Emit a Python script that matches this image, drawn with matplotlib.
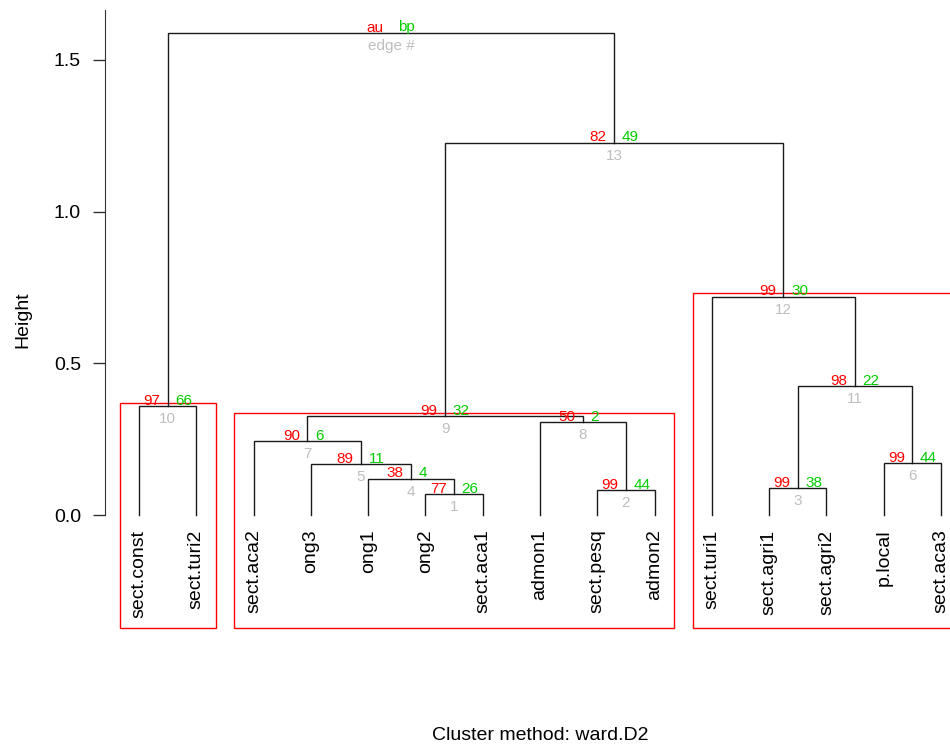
import matplotlib
matplotlib.use("Agg")
import matplotlib.pyplot as plt
from matplotlib.patches import Rectangle

plt.rcParams['font.family'] = ['Liberation Sans', 'DejaVu Sans']

# ---- data -------------------------------------------------------------
labels = ["sect.const", "sect.turi2", "sect.aca2", "ong3", "ong1", "ong2",
          "sect.aca1", "admon1", "sect.pesq", "admon2", "sect.turi1",
          "sect.agri1", "sect.agri2", "p.local", "sect.aca3"]
# hclust-style merges: negative = leaf (1-based, display order), positive = edge #
merge = [(-6, -7), (-9, -10), (-12, -13), (-5, 1), (-4, 4), (-14, -15),
         (-3, 5), (-8, 2), (7, 8), (-1, -2), (3, 6), (-11, 11), (9, 12), (10, 13)]
heights = [0.069, 0.081, 0.088, 0.120, 0.168, 0.172, 0.244, 0.307, 0.326,
           0.359, 0.426, 0.720, 1.228, 1.590]
au_vals = [77, 99, 99, 38, 89, 99, 90, 50, 99, 97, 98, 99, 82]
bp_vals = [26, 44, 38, 4, 11, 44, 6, 2, 32, 66, 22, 30, 49]
yticks = [0.0, 0.5, 1.0, 1.5]
ytick_labels = ["0.0", "0.5", "1.0", "1.5"]
alpha_pct = 95

RED = "#FF0000"
GREEN = "#00CD00"
GRAY = "#BEBEBE"

# ---- figure layout ----------------------------------------------------
W, H = 950, 749
fig = plt.figure(figsize=(W / 100, H / 100), dpi=100)
ax_l, ax_r, ax_t, ax_b = 105, 950, 10, 631
ax = fig.add_axes([ax_l / W, 1 - ax_b / H, (ax_r - ax_l) / W, (ax_b - ax_t) / H])

n = len(labels)
px_per_x = (941 - 139) / (n - 1)
px_per_y = (515 - 60) / 1.5
xmin = 1 - (139 - ax_l) / px_per_x
xmax = 1 + (ax_r - 139) / px_per_x
ymin = -(ax_b - 515) / px_per_y
ymax = (515 - ax_t) / px_per_y
ax.set_xlim(xmin, xmax)
ax.set_ylim(ymin, ymax)

# ---- dendrogram -------------------------------------------------------
node_x, node_h, members = {}, {}, {}

def child_info(c):
    if c < 0:
        return float(-c), 0.0, [-c]
    return node_x[c], node_h[c], members[c]

lc = "#1a1a1a"
for i, (a, b) in enumerate(merge, start=1):
    xa, ha, ma = child_info(a)
    xb, hb, mb = child_info(b)
    h = heights[i - 1]
    ax.plot([xa, xa, xb, xb], [ha, h, h, hb], color=lc, lw=1.0,
            solid_joinstyle='miter', clip_on=False)
    node_x[i] = (xa + xb) / 2
    node_h[i] = h
    members[i] = ma + mb

# leaf labels
for k, lab in enumerate(labels, start=1):
    ax.annotate(lab, (k, 0), xytext=(0, -10.5), textcoords='offset points',
                rotation=90, ha='center', va='top', fontsize=14, color='black',
                annotation_clip=False)

# au / bp / edge numbers
pt = 0.72
nedge = len(merge)
for i in range(1, nedge + 1):
    x, h = node_x[i], node_h[i]
    if i < nedge:
        a_txt, b_txt, e_txt = str(au_vals[i - 1]), str(bp_vals[i - 1]), str(i)
    else:
        a_txt, b_txt, e_txt = "au", "bp", "edge #"
    ax.annotate(a_txt, (x, h), xytext=(-7.5 * pt, 1.2 * pt), textcoords='offset points',
                ha='right', va='baseline', fontsize=11, color=RED)
    ax.annotate(b_txt, (x, h), xytext=(7.5 * pt, 1.2 * pt), textcoords='offset points',
                ha='left', va='baseline', fontsize=11, color=GREEN)
    ax.annotate(e_txt, (x, h), xytext=(0, -6.0 * pt), textcoords='offset points',
                ha='center', va='top', fontsize=11, color=GRAY)

# ---- pvrect (au >= 95, max only) -------------------------------------
xwd_r = (n - 1) * 1.08
ywd = ymax - ymin
mx = xwd_r / n / 3
my = ywd / 200
used = []
for i in range(nedge - 1, 0, -1):
    if au_vals[i - 1] >= alpha_pct:
        ma = members[i]
        if not any(m in used for m in ma):
            xl, xr = min(ma), max(ma)
            yt = node_h[i]
            ax.add_patch(Rectangle((xl - mx, ymin + my), (xr - xl) + 2 * mx,
                                   (yt + my) - (ymin + my), fill=False,
                                   edgecolor=RED, lw=1.0, clip_on=True))
        used.extend(ma)

# ---- axes styling -----------------------------------------------------
for s in ['top', 'right', 'bottom']:
    ax.spines[s].set_visible(False)
ax.spines['left'].set_bounds(0, ymax)
ax.spines['left'].set_color('#333333')
ax.set_xticks([])
ax.set_yticks(yticks)
ax.set_yticklabels(ytick_labels, fontsize=14)
ax.tick_params(axis='y', length=8.6, pad=8.6, width=1, color='#333333')
ax.set_ylabel("Height", fontsize=14)
ax.yaxis.set_label_coords((31 - ax_l) / (ax_r - ax_l), (ax_b - 320) / (ax_b - ax_t))

fig.text(540 / W, 1 - 735 / H, "Cluster method: ward.D2", ha='center', va='center',
         fontsize=14)

fig.savefig("out.png", dpi=100)
